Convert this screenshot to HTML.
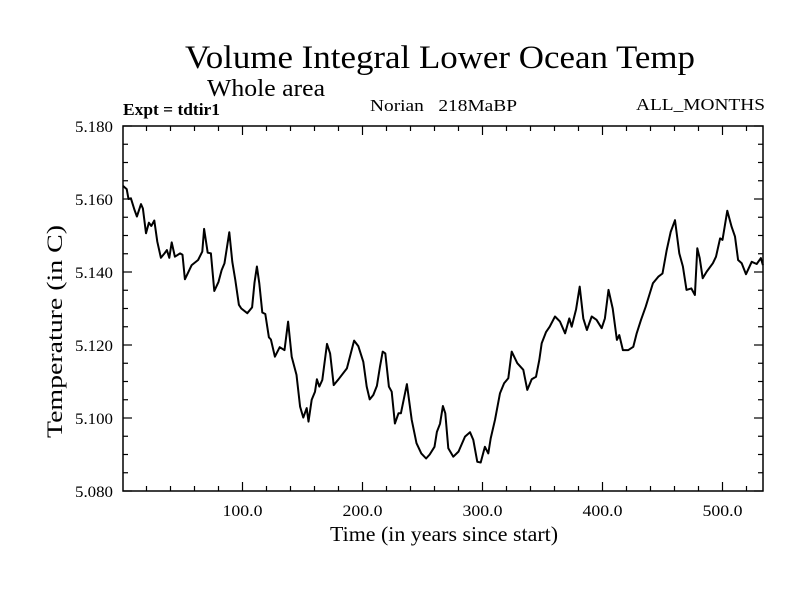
<!DOCTYPE html>
<html><head><meta charset="utf-8"><style>
html,body{margin:0;padding:0;background:#fff;}
svg{display:block;font-family:"Liberation Serif",serif;}
</style></head><body>
<svg id="chart" width="800" height="600">
<text x="185" y="68" font-size="33" textLength="510" lengthAdjust="spacingAndGlyphs">Volume Integral Lower Ocean Temp</text>
<text x="207" y="96" font-size="24" textLength="118" lengthAdjust="spacingAndGlyphs">Whole area</text>
<text x="123" y="115" font-size="17" font-weight="bold" textLength="97" lengthAdjust="spacingAndGlyphs">Expt = tdtir1</text>
<text x="370" y="111" font-size="17" textLength="147" lengthAdjust="spacingAndGlyphs" xml:space="preserve">Norian   218MaBP</text>
<text x="636" y="110" font-size="17" textLength="129" lengthAdjust="spacingAndGlyphs">ALL_MONTHS</text>
<text x="330" y="541" font-size="21" textLength="228" lengthAdjust="spacingAndGlyphs">Time (in years since start)</text>
<text transform="translate(62,438) rotate(-90)" font-size="22" textLength="213" lengthAdjust="spacingAndGlyphs">Temperature (in C)</text>
<g id="ticks"></g>
<g id="labels"></g>
<path id="line" fill="none" stroke="#000" stroke-width="2" stroke-linejoin="round"></path>
<rect x="123" y="126" width="640" height="365" fill="none" stroke="#000" stroke-width="1.5"></rect>
</svg>
<script>
const years=[0.4,3.5,5,7,10,12,15.4,17,19.6,22,24,26.5,29,32,35,37,39,41,43.7,48,50,52,57.7,63,66.5,68,71,73.7,76.5,80,82.6,85,89,91.5,94,97,99,104,108,110,112,114,116.5,119,122,123.7,127,131,135,138,141,145,148,150.7,153.5,155,157.7,160.4,162,164,166.5,170.4,173,176,180,187,193,196.5,200.7,203.5,206,209,212,214.6,216.8,219,222,224.3,227,230,232,237,241,245,249,253,256,260,262,264.6,267,269,271.5,275.7,280,285.4,289.6,292.3,295.7,298.5,302,304.8,306.8,310.4,314.6,318,321.5,324.3,329,334,337.3,341,344.6,347.3,349.3,353,356,360.4,364.6,368.8,372.3,374.3,378,381,384,387,391,395,399.3,402,405,408.5,412,414,417,421.5,425.7,428.5,432,436,439,442,446.5,450,453.5,456.8,460.4,464,467,470,474,477,479,481,483.5,486.8,492,494.6,498,500,504,507.6,510.4,513,516,519.6,524.3,528.5,532,533.7];
const temps=[5.1636,5.1627,5.160,5.1602,5.157,5.1552,5.1586,5.1574,5.1506,5.1535,5.1526,5.1541,5.1483,5.1439,5.1451,5.146,5.1439,5.1481,5.1442,5.1451,5.1447,5.138,5.1419,5.1433,5.1456,5.1518,5.1453,5.1451,5.1348,5.1373,5.1405,5.1424,5.1509,5.1428,5.1378,5.131,5.13,5.1287,5.1303,5.1371,5.1415,5.1369,5.1289,5.1285,5.1221,5.1215,5.1168,5.1194,5.1186,5.1264,5.1168,5.1118,5.1031,5.1001,5.1027,5.099,5.105,5.1072,5.1106,5.1086,5.1104,5.1203,5.1177,5.109,5.1106,5.1136,5.1212,5.1197,5.1154,5.1086,5.1051,5.1063,5.1088,5.1141,5.1182,5.1177,5.1086,5.1072,5.0985,5.1013,5.1013,5.1093,5.0995,5.0931,5.0903,5.0889,5.09,5.0921,5.0962,5.0984,5.1033,5.1013,5.0917,5.0894,5.0908,5.0949,5.0961,5.094,5.088,5.0878,5.0921,5.0903,5.0944,5.0995,5.1068,5.1095,5.1109,5.1182,5.115,5.1132,5.1077,5.1106,5.1113,5.1159,5.1205,5.1236,5.125,5.1278,5.1264,5.1232,5.1273,5.125,5.1298,5.136,5.1273,5.1241,5.1278,5.1269,5.1246,5.1273,5.1351,5.13,5.1214,5.1227,5.1186,5.1186,5.1195,5.1232,5.1268,5.1305,5.1337,5.1369,5.1387,5.1396,5.146,5.151,5.1542,5.1451,5.1415,5.1351,5.1355,5.1337,5.1465,5.1438,5.1383,5.1401,5.1424,5.1442,5.1492,5.1488,5.1568,5.1524,5.1497,5.1433,5.1424,5.1394,5.1428,5.1422,5.1438,5.1419];
const xTickLabels=["100.0","200.0","300.0","400.0","500.0"];
const yTickLabels=["5.080","5.100","5.120","5.140","5.160","5.180"];
const NS="http://www.w3.org/2000/svg";
const X0=123,X1=763,Y0=491,Y1=126,YMIN=5.08,YMAX=5.18;
const sx=v=>122.5+v*1.2;
const sy=v=>Y0-(v-YMIN)/(YMAX-YMIN)*(Y0-Y1);
let d="";
years.forEach((y,i)=>{d+=(i?"L":"M")+sx(y).toFixed(1)+","+sy(temps[i]).toFixed(1);});
document.getElementById("line").setAttribute("d",d);
const tg=document.getElementById("ticks"),lg=document.getElementById("labels");
function ln(x1,y1,x2,y2){const l=document.createElementNS(NS,"line");
l.setAttribute("x1",x1);l.setAttribute("y1",y1);l.setAttribute("x2",x2);l.setAttribute("y2",y2);
l.setAttribute("stroke","#000");l.setAttribute("stroke-width","1.2");


tg.appendChild(l);}
for(let v=20;v<=520;v+=20){const x=sx(v),len=(v%100===0)?9:5;ln(x,Y0,x,Y0-len);ln(x,Y1,x,Y1+len);}
for(let k=0;k<=20;k++){const v=YMIN+k*0.005,y=sy(v),len=(k%4===0)?9:5;ln(X0,y,X0+len,y);ln(X1,y,X1-len,y);}
xTickLabels.forEach(s=>{const t=document.createElementNS(NS,"text");
t.setAttribute("x",sx(parseFloat(s))-20);t.setAttribute("y",516);t.setAttribute("font-size","16");t.setAttribute("textLength","40");t.setAttribute("lengthAdjust","spacingAndGlyphs");t.textContent=s;


lg.appendChild(t);});
yTickLabels.forEach(s=>{const t=document.createElementNS(NS,"text");
t.setAttribute("x",75);t.setAttribute("y",sy(parseFloat(s))+6);t.setAttribute("font-size","16");t.setAttribute("textLength","38");t.setAttribute("lengthAdjust","spacingAndGlyphs");t.textContent=s;


lg.appendChild(t);});
</script>
</body></html>
